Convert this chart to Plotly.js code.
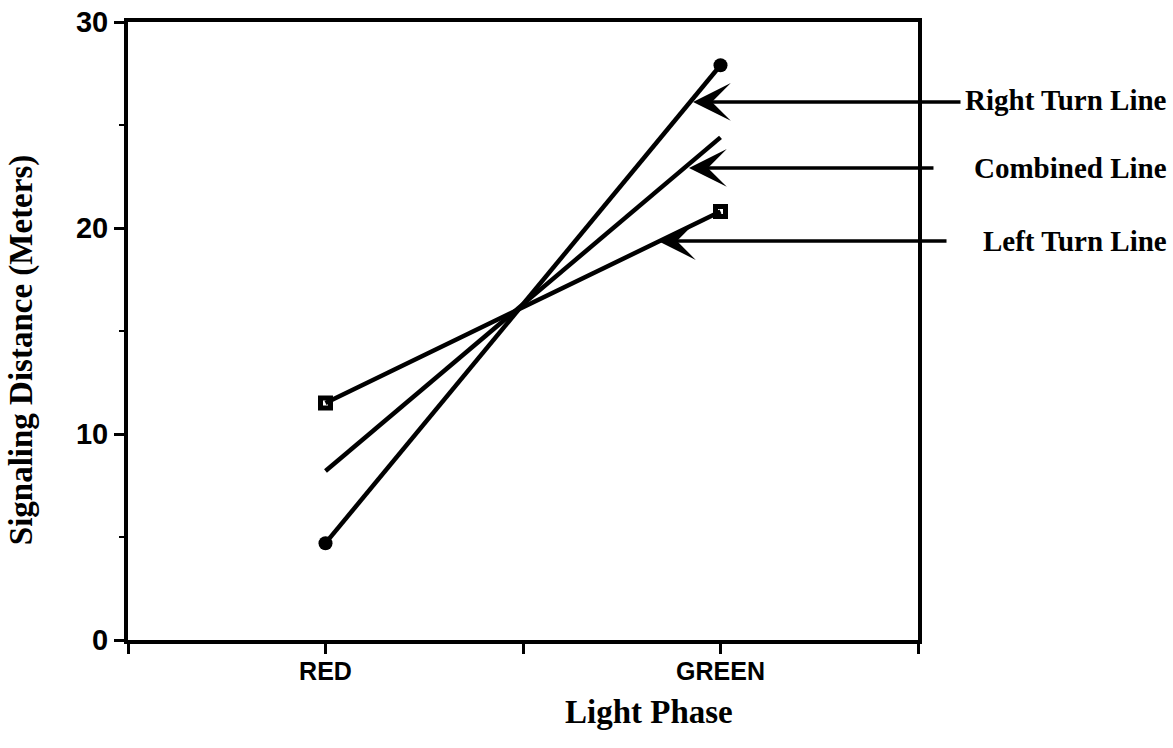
<!DOCTYPE html>
<html>
<head>
<meta charset="utf-8">
<script src="https://cdn.plot.ly/plotly-3.0.1.min.js"></script>
<style>html,body{margin:0;padding:0;background:#fff;}#chart{width:1173px;height:748px;}</style>
</head>
<body>
<div id="chart"></div>
<script>
// Data
const phases = ['RED', 'GREEN'];
const rightTurn = [4.7, 27.9];
const combined = [8.2, 24.4];
const leftTurn = [11.5, 20.8];
// Category slots on the x axis (blank slots carry the extra tick marks)
const xCategories = [' ', 'RED', '  ', 'GREEN', '   '];
const yTickVals = [0, 10, 20, 30];
const lineLabels = ['Right Turn Line', 'Combined Line', 'Left Turn Line'];

const lineStyle = {color: '#000', width: 4.5};
const traces = [
  {x: phases, y: rightTurn, type: 'scatter', mode: 'lines+markers', name: lineLabels[0],
   line: lineStyle, marker: {symbol: 'circle', size: 14, color: '#000'}, cliponaxis: false},
  {x: phases, y: combined, type: 'scatter', mode: 'lines', name: lineLabels[1],
   line: lineStyle, cliponaxis: false},
  {x: phases, y: leftTurn, type: 'scatter', mode: 'lines+markers', name: lineLabels[2],
   line: lineStyle, marker: {symbol: 'square-open', size: 10, color: '#000', line: {width: 5, color: '#000'}}, cliponaxis: false}
];

const serif = '"Liberation Serif", "Times New Roman", serif';
const sans = '"Liberation Sans", Arial, sans-serif';

// arrow heads (paper coords) and tail offsets (px)
const arrowHeads = [[0.7152, 0.8706, 269], [0.7101, 0.7638, 246], [0.6709, 0.6456, 290]];
const labelY = [0.8738, 0.7638, 0.6456];

const annotations = [];
arrowHeads.forEach(function(a, i) {
  annotations.push({xref: 'paper', yref: 'paper', x: a[0], y: a[1], ax: a[2], ay: 0,
    text: '', showarrow: true, arrowhead: 3, arrowsize: 1.8, arrowwidth: 3.5, arrowcolor: '#000',
    font: {size: 1}});
  annotations.push({xref: 'paper', yref: 'paper', x: 1.3177, y: labelY[i], xanchor: 'right', yanchor: 'middle',
    text: lineLabels[i], showarrow: false, font: {family: serif, size: 29, color: '#000', weight: 'bold'}});
});
annotations.push({xref: 'paper', yref: 'paper', x: 0.6595, y: -0.1165, xanchor: 'center', yanchor: 'middle',
  text: 'Light Phase', showarrow: false, font: {family: serif, size: 33, color: '#000', weight: 'bold'}});
annotations.push({xref: 'paper', yref: 'paper', x: -0.1354, y: 0.469, xanchor: 'center', yanchor: 'middle',
  text: 'Signaling Distance (Meters)', textangle: -90, showarrow: false,
  font: {family: serif, size: 33, color: '#000', weight: 'bold'}});

const layout = {
  width: 1173, height: 748,
  margin: {l: 128, r: 255, t: 22, b: 108},
  paper_bgcolor: '#fff', plot_bgcolor: '#fff',
  showlegend: false,
  xaxis: {type: 'category', categoryorder: 'array', categoryarray: xCategories,
    tickvals: xCategories, range: [0, 4], showgrid: false, zeroline: false,
    showline: true, linecolor: '#000', linewidth: 4, mirror: true,
    ticks: 'outside', ticklen: 10, tickwidth: 3, tickcolor: '#000', ticklabelstandoff: -4,
    tickfont: {family: sans, size: 25, color: '#000', weight: 'bold'}},
  yaxis: {range: [0, 30], tickvals: yTickVals, showgrid: false, zeroline: false,
    showline: true, linecolor: '#000', linewidth: 4, mirror: true,
    ticks: 'outside', ticklen: 10, tickwidth: 3, tickcolor: '#000',
    minor: {dtick: 5, ticks: 'outside', ticklen: 5, tickwidth: 2, tickcolor: '#000', showgrid: false},
    tickfont: {family: sans, size: 29, color: '#000', weight: 'bold'}},
  annotations: annotations
};

Plotly.newPlot('chart', traces, layout, {displayModeBar: false, staticPlot: true});
</script>
</body>
</html>
